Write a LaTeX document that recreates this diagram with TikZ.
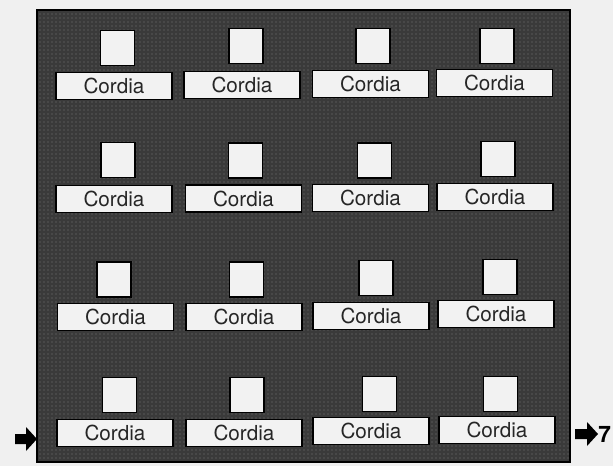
\documentclass[tikz,border=0pt]{standalone}
\usepackage{fontspec}
\setmainfont{TeX Gyre Heros}
\usetikzlibrary{patterns}
\definecolor{paper}{RGB}{240,240,240}
\definecolor{panel}{RGB}{58,58,58}
\definecolor{dotcol}{RGB}{120,120,120}
\definecolor{boxfill}{RGB}{242,242,242}
\tikzset{
  labelbox/.style={draw=black, line width=1.2pt, fill=boxfill, minimum width=87pt, minimum height=20.5pt, inner sep=0pt, font=\fontsize{15.5}{17}\selectfont, text=black!85},
  sqbox/.style={draw=black, line width=1.2pt, fill=boxfill, minimum width=25.5pt, minimum height=26pt, inner sep=0pt},
  frame/.style={draw=black, line width=1.6pt}
}
\begin{document}
\begin{tikzpicture}[x=0.75pt, y=-0.75pt]
\useasboundingbox (0,0) rectangle (613,466);
\fill[paper] (0,0) rectangle (613,466);
\fill[panel] (37,10) rectangle (570,462);
\fill[pattern=dots, pattern color=dotcol] (37,10) rectangle (570,462);
\draw[frame] (37,10) rectangle (570,462);
% squares
\foreach \n/\x/\y in {11/117.5/48, 12/246/46, 13/373/46, 14/497/46,
                      21/118/160, 22/245.5/160.5, 23/374.5/160.5, 24/498/159,
                      31/114/279.5, 32/246.5/279.5, 33/376/278, 34/500/277,
                      41/119.5/395, 42/247/395, 43/379.5/394, 44/500.5/394}
  \node[sqbox] (s\n) at (\x,\y) {};
% labels
\foreach \n/\x/\y in {11/114/86, 12/242/85, 13/370.5/84, 14/494.5/83,
                      21/114/199, 22/243.5/198.5, 23/370.5/198, 24/495/197,
                      31/115.5/317, 32/244/317, 33/371/316, 34/496/314,
                      41/115/433, 42/244/433, 43/371/431, 44/497/430}
  \node[labelbox] (l\n) at (\x,\y) {Cordia};
% arrows
\fill[black] (15,434) -- (26,434) -- (26,427) -- (37,439) -- (26,451) -- (26,444) -- (15,444) -- cycle;
\fill[black] (575,429) -- (587,429) -- (587,422) -- (598,434) -- (587,446) -- (587,439) -- (575,439) -- cycle;
\node[font=\fontsize{17}{18}\selectfont\bfseries, inner sep=0pt, anchor=west] (seven) at (598,434) {7};
\end{tikzpicture}
\end{document}
